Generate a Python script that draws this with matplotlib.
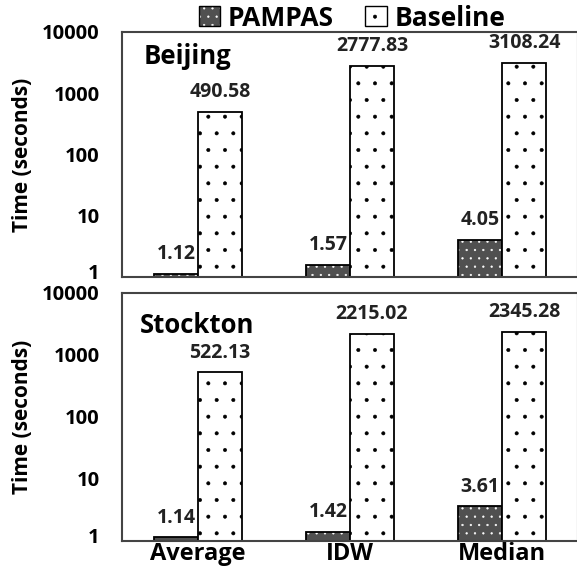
import matplotlib
matplotlib.use("Agg")
import matplotlib.pyplot as plt
import matplotlib.transforms as mtransforms
from matplotlib.patches import Patch
from matplotlib.legend_handler import HandlerTuple

plt.rcParams['font.family'] = ['Open Sans', 'DejaVu Sans']
plt.rcParams['font.weight'] = 'bold'
plt.rcParams['axes.labelweight'] = 'bold'
plt.rcParams['hatch.linewidth'] = 0.4

methods = ["Average", "IDW", "Median"]
cities = ["Beijing", "Stockton"]
pampas = {"Beijing": [1.12, 1.57, 4.05], "Stockton": [1.14, 1.42, 3.61]}
baseline = {"Beijing": [490.58, 2777.83, 3108.24], "Stockton": [522.13, 2215.02, 2345.28]}
yticks = [1, 10, 100, 1000, 10000]

dark = "#505050"
w = 0.29
xs = list(range(len(methods)))

fig = plt.figure(figsize=(5.77, 5.67), dpi=100)
axes = [fig.add_axes([0.2114, 0.5115, 0.7903, 0.4321]),
        fig.add_axes([0.2114, 0.0459, 0.7903, 0.4374])]
city_pos = [(0.048, 0.898), (0.040, 0.867)]
lift = mtransforms.ScaledTranslation(0, 4 / 72, fig.dpi_scale_trans)

for ax, city, cpos in zip(axes, cities, city_pos):
    ax.set_yscale('log')
    px = [x - w / 2 for x in xs]
    bx = [x + w / 2 for x in xs]
    # dark hatched bars: fill + white hatch, then black outline on top
    ax.bar(px, pampas[city], w, color=dark, edgecolor='white', hatch='..', linewidth=0)
    ax.bar(px, pampas[city], w, fill=False, edgecolor='black', linewidth=1.3)
    ax.bar(bx, baseline[city], w, color='white', edgecolor='black', hatch='.', linewidth=1.3)
    for x, v in zip(px, pampas[city]):
        ax.annotate(f"{v:.2f}", (x, v), xytext=(0, 7), textcoords='offset points',
                    ha='center', va='bottom', fontsize=14, color='#222222')
    for x, v in zip(bx, baseline[city]):
        ax.annotate(f"{v:.2f}", (x, v), xytext=(0, 7), textcoords='offset points',
                    ha='center', va='bottom', fontsize=14, color='#222222')
    ax.set_ylim(1, 10000)
    ax.set_xlim(-0.5, 2.5)
    ax.set_yticks(yticks)
    ax.set_yticklabels([str(t) for t in yticks])
    ax.minorticks_off()
    ax.tick_params(axis='y', length=0, pad=16, labelsize=14.5)
    ax.tick_params(axis='x', length=0, pad=1, labelsize=17)
    # the bottom "1" sits a little above its tick, as in the original
    lab1 = ax.get_yticklabels()[0]
    lab1.set_transform(lab1.get_transform() + lift)
    for s in ax.spines.values():
        s.set_color('#444444')
        s.set_linewidth(1.5)
    ax.set_ylabel("Time (seconds)", fontsize=15)
    ax.yaxis.set_label_coords(-0.196, 0.5)
    ax.text(cpos[0], cpos[1], city, transform=ax.transAxes, fontsize=18.5,
            ha='left', va='center')

axes[0].set_xticks(xs)
axes[0].set_xticklabels([])
axes[1].set_xticks(xs)
axes[1].set_xticklabels(methods)

h_p = (Patch(facecolor=dark, edgecolor='white', hatch='..', linewidth=0),
       Patch(fill=False, edgecolor='black', linewidth=1.0))
h_b = Patch(facecolor='white', edgecolor='black', hatch='.', linewidth=1.0)
fig.legend([h_p, h_b], ["PAMPAS", "Baseline"], handler_map={tuple: HandlerTuple(ndivide=1)},
           loc='center', bbox_to_anchor=(352 / 577, 1 - 18 / 567), ncol=2, frameon=False,
           fontsize=19, handlelength=0.8, handleheight=0.8, handletextpad=0.3,
           columnspacing=1.2, borderpad=0)

fig.savefig("out.png", dpi=100)
